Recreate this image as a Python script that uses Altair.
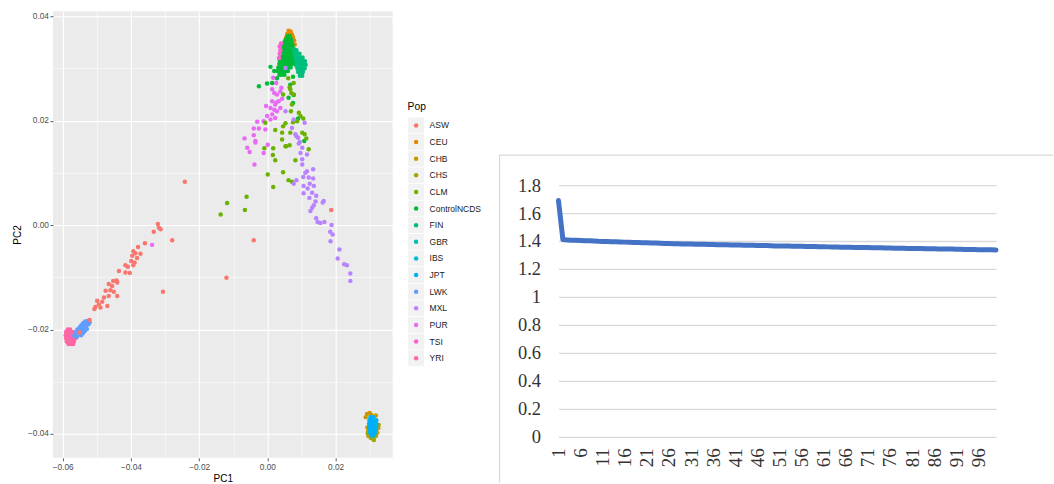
import altair as alt
import pandas as pd

# ---------------------------------------------------------------- populations
POPS = ["ASW", "CEU", "CHB", "CHS", "CLM", "ControlNCDS", "FIN", "GBR",
        "IBS", "JPT", "LWK", "MXL", "PUR", "TSI", "YRI"]
POP_COLORS = ["#F8766D", "#E58700", "#C99800", "#A3A500", "#6BB100", "#00BA38",
              "#00BF7D", "#00C0AF", "#00BCD8", "#00B0F6", "#619CFF", "#B983FF",
              "#E76BF3", "#FD61D1", "#FF67A4"]

# (PC1, PC2) per sample, grouped by population
ASW = [(-0.0321, 0.0002), (-0.0318, -0.0005), (-0.0333, -0.0013), (-0.0313, -0.0008),
       (-0.0279, -0.0029), (-0.0359, -0.0035), (-0.0379, -0.0042), (-0.0393, -0.0050),
       (-0.0387, -0.0054), (-0.0372, -0.0055), (-0.0396, -0.0059), (-0.0382, -0.0063),
       (-0.0399, -0.0069), (-0.0389, -0.0072), (-0.0393, -0.0077), (-0.0416, -0.0077),
       (-0.0409, -0.0080), (-0.0435, -0.0088), (-0.0416, -0.0091), (-0.0403, -0.0092),
       (-0.0442, -0.0106), (-0.0452, -0.0107), (-0.0465, -0.0113), (-0.0455, -0.0117),
       (-0.0440, -0.0110), (-0.0474, -0.0126), (-0.0460, -0.0125), (-0.0450, -0.0128),
       (-0.0440, -0.0136), (-0.0465, -0.0136), (-0.0479, -0.0139), (-0.0499, -0.0145),
       (-0.0484, -0.0147), (-0.0494, -0.0152), (-0.0469, -0.0155), (-0.0504, -0.0157),
       (-0.0489, -0.0158), (-0.0507, -0.0161), (-0.0306, -0.0128), (-0.0120, -0.0101),
       (-0.0040, -0.0029), (-0.0521, -0.0182), (-0.0550, -0.0206), (-0.0242, 0.0083),
       (0.0187, 0.0029)]
CEU = [(0.0062, 0.0372), (0.0068, 0.0371), (0.0058, 0.0366), (0.0065, 0.0367),
       (0.0072, 0.0365), (0.0055, 0.0360), (0.0075, 0.0360), (0.0052, 0.0354),
       (0.0078, 0.0354), (0.0050, 0.0348), (0.0080, 0.0346)]
CHB = [(0.0292, -0.0362), (0.0300, -0.0360), (0.0288, -0.0368), (0.0293, -0.0388),
       (0.0295, -0.0395), (0.0318, -0.0365), (0.0296, -0.0404), (0.0325, -0.0389),
       (0.0322, -0.0398), (0.0305, -0.0364)]
CHS = [(0.0310, -0.0410), (0.0303, -0.0408), (0.0318, -0.0404), (0.0294, -0.0399),
       (0.0326, -0.0383), (0.0312, -0.0412)]
CLM = [(-0.0009, 0.0147), (0.0017, 0.0147), (0.0016, 0.0134), (0.0023, 0.0124),
       (0.0001, 0.0097), (0.0046, 0.0101), (0.0062, 0.0086), (0.0072, 0.0083),
       (0.0017, 0.0073), (-0.0061, 0.0054), (-0.0118, 0.0042), (-0.0066, 0.0029),
       (-0.0137, 0.0020), (0.0055, 0.0151), (0.0065, 0.0153), (0.0082, 0.0124),
       (0.0121, 0.0145), (0.0077, 0.0272), (0.0065, 0.0264), (0.0070, 0.0253),
       (0.0046, 0.0250), (0.0077, 0.0250), (0.0072, 0.0231), (0.0069, 0.0218),
       (0.0092, 0.0215), (0.0097, 0.0209), (0.0105, 0.0204), (0.0087, 0.0199),
       (0.0075, 0.0197), (0.0053, 0.0195), (0.0046, 0.0189), (-0.0006, 0.0196),
       (0.0023, 0.0182), (0.0043, 0.0177), (0.0067, 0.0177), (0.0043, 0.0164),
       (0.0102, 0.0177), (0.0109, 0.0174), (0.0114, 0.0166), (0.0053, 0.0151),
       (0.0067, 0.0260), (0.0061, 0.0281)]
CONTROL = [(-0.0025, 0.0266), (-0.0001, 0.0271), (0.0014, 0.0272), (0.0009, 0.0303),
           (0.0028, 0.0281), (0.0062, 0.0244), (0.0077, 0.0249), (0.0075, 0.0234),
           (0.0090, 0.0204), (0.0108, 0.0161), (0.0020, 0.0295), (0.0075, 0.0284),
           (0.0067, 0.0269),
           (0.0060, 0.0362), (0.0066, 0.0362),
           (0.0055, 0.0356), (0.0062, 0.0356), (0.0069, 0.0356),
           (0.0050, 0.0350), (0.0057, 0.0350), (0.0064, 0.0350), (0.0071, 0.0350),
           (0.0046, 0.0344), (0.0053, 0.0344), (0.0060, 0.0344), (0.0067, 0.0344),
           (0.0074, 0.0344),
           (0.0043, 0.0337), (0.0050, 0.0337), (0.0057, 0.0337), (0.0064, 0.0337),
           (0.0071, 0.0337), (0.0078, 0.0337),
           (0.0040, 0.0330), (0.0047, 0.0330), (0.0054, 0.0330), (0.0061, 0.0330),
           (0.0068, 0.0330), (0.0075, 0.0330), (0.0080, 0.0330),
           (0.0038, 0.0323), (0.0045, 0.0323), (0.0052, 0.0323), (0.0059, 0.0323),
           (0.0066, 0.0323), (0.0073, 0.0323), (0.0080, 0.0323),
           (0.0036, 0.0316), (0.0043, 0.0316), (0.0050, 0.0316), (0.0057, 0.0316),
           (0.0064, 0.0316), (0.0071, 0.0316), (0.0078, 0.0316),
           (0.0035, 0.0309), (0.0042, 0.0309), (0.0049, 0.0309), (0.0056, 0.0309),
           (0.0063, 0.0309), (0.0070, 0.0309), (0.0077, 0.0309),
           (0.0032, 0.0302), (0.0040, 0.0302), (0.0047, 0.0302), (0.0054, 0.0302),
           (0.0061, 0.0302), (0.0068, 0.0302),
           (0.0030, 0.0295), (0.0037, 0.0295), (0.0045, 0.0295), (0.0052, 0.0295),
           (0.0060, 0.0295),
           (0.0035, 0.0288), (0.0042, 0.0288), (0.0050, 0.0288)]
FIN = [(0.0078, 0.0335), (0.0085, 0.0335),
       (0.0080, 0.0328), (0.0087, 0.0328), (0.0094, 0.0328),
       (0.0082, 0.0321), (0.0089, 0.0321), (0.0096, 0.0321), (0.0103, 0.0321),
       (0.0084, 0.0314), (0.0091, 0.0314), (0.0098, 0.0314), (0.0105, 0.0314),
       (0.0110, 0.0314),
       (0.0086, 0.0307), (0.0093, 0.0307), (0.0100, 0.0307), (0.0107, 0.0307),
       (0.0112, 0.0307),
       (0.0088, 0.0300), (0.0095, 0.0300), (0.0102, 0.0300), (0.0109, 0.0300),
       (0.0090, 0.0293), (0.0097, 0.0293), (0.0104, 0.0293),
       (0.0095, 0.0286), (0.0102, 0.0286)]
GBR = [(0.0075, 0.0318), (0.0085, 0.0305), (0.0070, 0.0330), (0.0090, 0.0315)]
IBS = [(0.0060, 0.0320), (0.0050, 0.0312), (0.0065, 0.0305)]
JPT = [(0.0302, -0.0368), (0.0310, -0.0368),
       (0.0299, -0.0374), (0.0306, -0.0374), (0.0313, -0.0374), (0.0319, -0.0374),
       (0.0298, -0.0380), (0.0305, -0.0380), (0.0312, -0.0380), (0.0319, -0.0380),
       (0.0298, -0.0386), (0.0305, -0.0386), (0.0312, -0.0386), (0.0319, -0.0386),
       (0.0299, -0.0392), (0.0306, -0.0392), (0.0313, -0.0392), (0.0318, -0.0392),
       (0.0301, -0.0398), (0.0308, -0.0398), (0.0315, -0.0398),
       (0.0305, -0.0403), (0.0311, -0.0403)]
LWK = [(-0.0566, -0.0212), (-0.0562, -0.0206), (-0.0558, -0.0214), (-0.0557, -0.0200),
       (-0.0553, -0.0208), (-0.0550, -0.0196), (-0.0548, -0.0204), (-0.0546, -0.0211),
       (-0.0545, -0.0192), (-0.0543, -0.0200), (-0.0540, -0.0207), (-0.0540, -0.0188),
       (-0.0537, -0.0196), (-0.0535, -0.0203), (-0.0534, -0.0185), (-0.0531, -0.0192),
       (-0.0529, -0.0199), (-0.0527, -0.0184), (-0.0524, -0.0190), (-0.0521, -0.0186)]
MXL = [(0.0053, 0.0218), (0.0077, 0.0202), (0.0072, 0.0186), (0.0109, 0.0196),
       (0.0082, 0.0174), (0.0090, 0.0167), (0.0092, 0.0156), (0.0102, 0.0148),
       (0.0097, 0.0138), (0.0116, 0.0135), (0.0102, 0.0126), (0.0102, 0.0116),
       (0.0116, 0.0103), (0.0134, 0.0107), (0.0105, 0.0092), (0.0121, 0.0091),
       (0.0134, 0.0089), (0.0085, 0.0086), (0.0077, 0.0079), (0.0106, 0.0075),
       (0.0124, 0.0079), (0.0136, 0.0075), (0.0118, 0.0070), (0.0106, 0.0061),
       (0.0131, 0.0062), (0.0123, 0.0052), (0.0143, 0.0056), (0.0141, 0.0045),
       (0.0136, 0.0038), (0.0131, 0.0033), (0.0126, 0.0027), (0.0165, 0.0046),
       (0.0162, 0.0043), (0.0143, 0.0013), (0.0147, 0.0006), (0.0155, 0.0004),
       (0.0167, 0.0006), (0.0188, 0.0000), (0.0184, -0.0013), (0.0191, -0.0018),
       (0.0185, -0.0031), (0.0211, -0.0047), (0.0206, -0.0064), (0.0225, -0.0075),
       (0.0233, -0.0077), (0.0243, -0.0093), (0.0243, -0.0107), (0.0095, 0.0159),
       (0.0111, 0.0100), (0.0053, 0.0301), (0.0085, 0.0170)]
PUR = [(0.0017, 0.0282), (0.0014, 0.0260), (0.0020, 0.0253), (0.0028, 0.0250),
       (0.0038, 0.0256), (0.0033, 0.0237), (0.0014, 0.0237), (0.0023, 0.0231),
       (0.0009, 0.0224), (0.0020, 0.0221), (-0.0004, 0.0228), (0.0028, 0.0218),
       (0.0014, 0.0212), (-0.0001, 0.0209), (0.0023, 0.0205), (0.0009, 0.0202),
       (-0.0030, 0.0198), (-0.0011, 0.0199), (-0.0025, 0.0185), (-0.0006, 0.0183),
       (-0.0040, 0.0185), (-0.0067, 0.0166), (-0.0040, 0.0172), (-0.0035, 0.0161),
       (-0.0059, 0.0148), (-0.0052, 0.0140), (-0.0011, 0.0138), (0.0001, 0.0154),
       (-0.0038, 0.0116), (0.0041, 0.0263), (0.0026, 0.0272), (0.0043, 0.0242),
       (0.0038, 0.0224), (0.0026, 0.0235), (-0.0035, 0.0158), (-0.0338, -0.0038)]
TSI = [(0.0036, 0.0342), (0.0038, 0.0335), (0.0036, 0.0328), (0.0040, 0.0348),
       (0.0034, 0.0320)]
YRI = [(-0.0585, -0.0200), (-0.0578, -0.0200),
       (-0.0590, -0.0205), (-0.0583, -0.0205), (-0.0576, -0.0205), (-0.0569, -0.0205),
       (-0.0591, -0.0211), (-0.0584, -0.0211), (-0.0577, -0.0211), (-0.0570, -0.0211),
       (-0.0563, -0.0211),
       (-0.0590, -0.0217), (-0.0583, -0.0217), (-0.0576, -0.0217), (-0.0569, -0.0217),
       (-0.0562, -0.0217),
       (-0.0588, -0.0223), (-0.0581, -0.0223), (-0.0574, -0.0223), (-0.0567, -0.0223),
       (-0.0583, -0.0228), (-0.0576, -0.0228), (-0.0569, -0.0228)]

# plotting order (later groups are drawn on top)
DRAW_ORDER = [("CHB", CHB), ("CHS", CHS), ("JPT", JPT), ("GBR", GBR), ("IBS", IBS),
              ("CEU", CEU), ("ControlNCDS", CONTROL), ("FIN", FIN), ("TSI", TSI),
              ("PUR", PUR), ("CLM", CLM), ("MXL", MXL), ("YRI", YRI), ("LWK", LWK),
              ("ASW", ASW)]

PC1_TICKS = [-0.06, -0.05, -0.04, -0.03, -0.02, -0.01, 0.0, 0.01, 0.02, 0.03]
PC2_TICKS = [-0.04, -0.03, -0.02, -0.01, 0.0, 0.01, 0.02, 0.03, 0.04]

# ---------------------------------------------------------------- right series
STEPS = list(range(1, 101))
SERIES = [1.690, 1.410, 1.408, 1.406, 1.405, 1.404, 1.402, 1.401, 1.400, 1.398,
          1.397, 1.396, 1.395, 1.394, 1.393, 1.392, 1.391, 1.390, 1.389, 1.388,
          1.387, 1.386, 1.385, 1.384, 1.383, 1.382, 1.381, 1.380, 1.379, 1.379,
          1.378, 1.377, 1.377, 1.376, 1.375, 1.375, 1.374, 1.373, 1.373, 1.372,
          1.371, 1.371, 1.370, 1.369, 1.369, 1.368, 1.367, 1.367, 1.366, 1.365,
          1.365, 1.364, 1.364, 1.363, 1.362, 1.362, 1.361, 1.360, 1.360, 1.359,
          1.359, 1.358, 1.357, 1.357, 1.356, 1.356, 1.355, 1.354, 1.354, 1.353,
          1.353, 1.352, 1.351, 1.351, 1.350, 1.350, 1.349, 1.349, 1.348, 1.347,
          1.347, 1.346, 1.346, 1.345, 1.345, 1.344, 1.343, 1.343, 1.342, 1.342,
          1.341, 1.341, 1.340, 1.339, 1.339, 1.338, 1.338, 1.337, 1.337, 1.336]
STEP_TICKS = [1, 6, 11, 16, 21, 26, 31, 36, 41, 46, 51, 56, 61, 66, 71, 76, 81, 86, 91, 96]
VALUE_TICKS = [0, 0.2, 0.4, 0.6, 0.8, 1, 1.2, 1.4, 1.6, 1.8]

SANS = "Liberation Sans"
SERIF = "Liberation Serif"

# ---------------------------------------------------------------- PCA panel
scatter_df = pd.DataFrame(
    [{"PC1": x, "PC2": y, "Pop": pop} for pop, pts in DRAW_ORDER for x, y in pts]
)

MAJOR = "abs(round(datum.value * 100)) % 2 == 0"


def gg_axis(values, title, title_pad):
    return alt.Axis(
        values=values,
        title=title,
        labelExpr=f"{MAJOR} ? format(datum.value, '.2f') : ''",
        labelFont=SANS, labelFontSize=8.3, labelColor="#4D4D4D",
        titleFont=SANS, titleFontSize=10, titleFontWeight="normal",
        titleColor="#000000", titlePadding=title_pad,
        grid=True, gridColor="#FFFFFF",
        gridWidth={"condition": {"test": MAJOR, "value": 1.1}, "value": 0.55},
        domain=False, ticks=True, tickColor="#333333", tickWidth=0.8, tickSize=3,
        tickOpacity={"condition": {"test": MAJOR, "value": 1}, "value": 0},
        labelOverlap=False, labelFlush=False, labelPadding=1.5,
    )


pop_scale = alt.Scale(domain=POPS, range=POP_COLORS)

scatter = alt.Chart(scatter_df).mark_circle(size=20, opacity=1).encode(
    x=alt.X("PC1:Q", scale=alt.Scale(domain=[-0.06284, 0.03669], nice=False, zero=False),
            axis=gg_axis(PC1_TICKS, "PC1", 3)),
    y=alt.Y("PC2:Q", scale=alt.Scale(domain=[-0.04459, 0.04096], nice=False, zero=False),
            axis=gg_axis(PC2_TICKS, "PC2", 5)),
    color=alt.Color("Pop:N", scale=pop_scale, legend=None),
)

# hand-built ggplot-style legend
legend_df = pd.DataFrame({"Pop": POPS})
key_y = alt.Y("Pop:N", sort=POPS,
              scale=alt.Scale(type="point", range=[114.3, 347.3], padding=0), axis=None)
keys = alt.Chart(legend_df).mark_square(size=250, color="#F2F2F2", opacity=1).encode(
    x=alt.value(363.5), y=key_y)
dots = alt.Chart(legend_df).mark_circle(size=20, opacity=1).encode(
    x=alt.value(363.5), y=key_y, color=alt.Color("Pop:N", scale=pop_scale, legend=None))
key_labels = alt.Chart(legend_df).mark_text(
    align="left", baseline="middle", font=SANS, fontSize=8.5, color="#1A1A1A"
).encode(x=alt.value(377), y=key_y, text="Pop:N")
legend = alt.layer(keys, dots, key_labels)

legend_title = alt.Chart(pd.DataFrame({"label": ["Pop"]})).mark_text(
    align="left", baseline="middle", font=SANS, fontSize=10.3, color="#000000"
).encode(x=alt.value(355), y=alt.value(96), text="label:N")

edge_anchor = alt.Chart(pd.DataFrame({"a": [0]})).mark_rule(color="#FFFFFF").encode(
    x=alt.value(-52), y=alt.value(0), y2=alt.value(2))

pca = alt.layer(scatter, legend, legend_title, edge_anchor).resolve_scale(
    y="independent"
).properties(width=340, height=447,
             view=alt.ViewBackground(fill="#EBEBEB", strokeWidth=0))

# ---------------------------------------------------------------- line panel
series_df = pd.DataFrame({"step": STEPS, "value": SERIES})

line = alt.Chart(series_df).mark_line(
    color="#4472C4", strokeWidth=5, strokeCap="round", strokeJoin="round"
).encode(
    x=alt.X("step:Q", title="",
            scale=alt.Scale(domain=[1, 100], nice=False, zero=False),
            axis=alt.Axis(values=STEP_TICKS, labelAngle=270, grid=False, domain=False,
                          ticks=False, labelPadding=11, labelFont=SERIF,
                          labelFontSize=19, labelColor="#333333",
                          labelOverlap=False, labelFlush=False)),
    y=alt.Y("value:Q", title="",
            scale=alt.Scale(domain=[0, 3.0429], nice=False, zero=True),
            axis=alt.Axis(values=VALUE_TICKS, format="~g", grid=True,
                          gridColor="#D9D9D9", gridWidth=1.3, domain=False,
                          ticks=False, labelPadding=18, labelFont=SERIF,
                          labelFontSize=18.5, labelColor="#333333",
                          labelOverlap=False, labelFlush=False)),
)

frame_df = pd.DataFrame({"edge": ["frame"]})
frame_top = alt.Chart(frame_df).mark_rule(color="#D9D9D9", strokeWidth=1.3).encode(
    x=alt.value(-59), x2=alt.value(495), y=alt.value(144))
frame_left = alt.Chart(frame_df).mark_rule(color="#D9D9D9", strokeWidth=1.3).encode(
    x=alt.value(-59), y=alt.value(144), y2=alt.value(472))

trend = alt.layer(frame_top, frame_left, line).properties(width=438, height=426)

chart = alt.hconcat(
    pca, trend, spacing=166, bounds="flush",
    padding={"left": 0, "top": 10, "right": 0, "bottom": 0},
    background="#FFFFFF",
).configure_view(strokeWidth=0)

chart.save("out.html", embed_options={"renderer": "svg", "actions": False})
